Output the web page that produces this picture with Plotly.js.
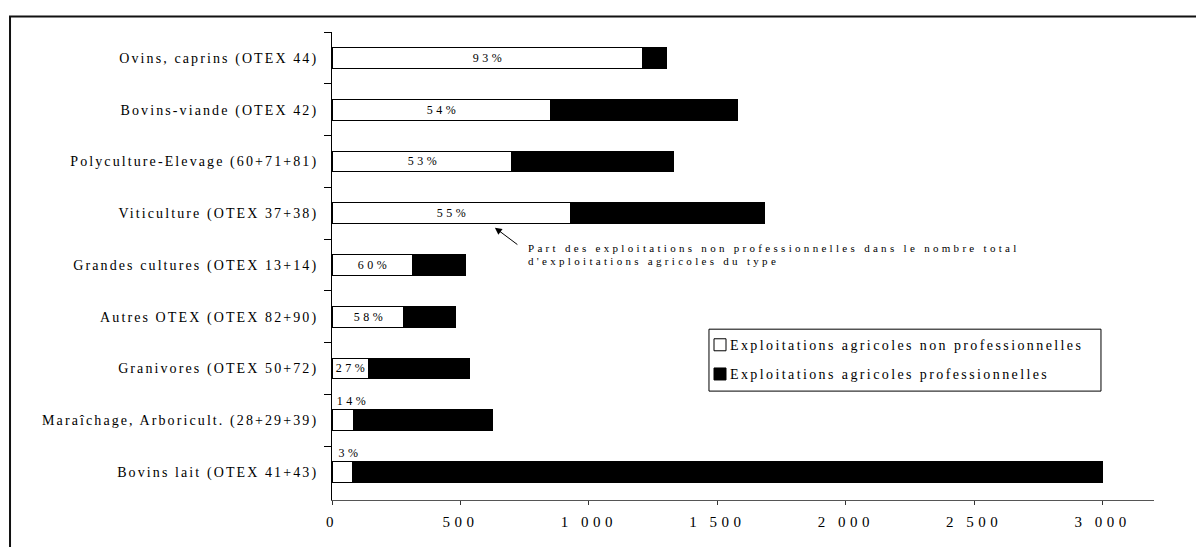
<!DOCTYPE html>
<html>
<head>
<meta charset="utf-8">
<script src="https://cdn.plot.ly/plotly-3.0.1.min.js"></script>
<style>
  html, body { margin: 0; padding: 0; background: #fff; }
  #chart { width: 1196px; height: 547px; }
  /* wide letter spacing of the original typesetting */
  #chart .ytick text { letter-spacing: 2.1px; }
  #chart .xtick text { letter-spacing: 4.5px; }
  #chart .legendtext { letter-spacing: 2.4px; transform: translateX(-10px); }
  #chart .annotation-text { letter-spacing: 3.3px; }
  #chart .annotation.share .annotation-text { letter-spacing: 3.5px; }
  #chart .legend .scrollbox { clip-path: none !important; }
</style>
</head>
<body>
<div id="chart"></div>
<script>
// Types of farms (OTEX), listed top to bottom
const categories = [
  'Ovins, caprins (OTEX 44)',
  'Bovins-viande (OTEX 42)',
  'Polyculture-Elevage (60+71+81)',
  'Viticulture (OTEX 37+38)',
  'Grandes cultures (OTEX 13+14)',
  'Autres OTEX (OTEX 82+90)',
  'Granivores (OTEX 50+72)',
  'Maraîchage, Arboricult. (28+29+39)',
  'Bovins lait (OTEX 41+43)'
];
// Number of farms
const nonPro = [1210, 851, 700, 927, 312, 278, 142, 85, 80];
const pro    = [93, 729, 628, 756, 208, 202, 392, 538, 2920];

const seriesNames = [
  'Exploitations agricoles non professionnelles',
  'Exploitations agricoles professionnelles'
];
const noteLines = [
  'Part des exploitations non professionnelles dans le nombre total',
  "d'exploitations agricoles du type"
];

const FONT = 'Liberation Serif, Times New Roman, serif';

const traces = [
  {
    type: 'bar', orientation: 'h',
    y: categories, x: nonPro,
    name: seriesNames[0], legendgroup: 'a',
    marker: { color: '#ffffff', line: { color: '#000000', width: 1 } },
    hoverinfo: 'skip'
  },
  {
    type: 'bar', orientation: 'h',
    y: categories, x: pro,
    name: seriesNames[1], legendgroup: 'b',
    marker: { color: '#000000', line: { color: '#000000', width: 1 } },
    hoverinfo: 'skip'
  }
];

// share of non-professional farms, written in the white part (or just above the bar when too narrow)
const shareFont = { family: FONT, size: 12, color: '#000' };
const shareLabels = categories.map((c, i) => {
  const pct = Math.round(nonPro[i] / (nonPro[i] + pro[i]) * 100) + '%';
  const inside = nonPro[i] >= 100;
  return inside
    ? { x: nonPro[i] / 2, y: c, text: pct, showarrow: false, xanchor: 'center', yanchor: 'middle',
        xshift: 2, font: shareFont }
    : { x: 0, y: c, text: pct, showarrow: false, xanchor: 'left', yanchor: 'middle',
        xshift: 8, yshift: 19, font: shareFont };
});

const noteFont = { family: FONT, size: 11, color: '#000' };
const annotations = shareLabels.concat([
  { // arrow pointing at the Viticulture share
    x: 634, y: 3.28, xref: 'x', yref: 'y', text: '',
    showarrow: true, arrowhead: 2, arrowsize: 1.4, arrowwidth: 1, arrowcolor: '#000',
    ax: 24, ay: 18, axref: 'pixel', ayref: 'pixel'
  },
  {
    x: 757, y: 3.681, xref: 'x', yref: 'y', text: noteLines[0],
    showarrow: false, xanchor: 'left', yanchor: 'middle', align: 'left', font: noteFont
  },
  {
    x: 757, y: 3.921, xref: 'x', yref: 'y', text: noteLines[1],
    showarrow: false, xanchor: 'left', yanchor: 'middle', align: 'left', font: noteFont
  }
]);

const layout = {
  width: 1196, height: 547,
  margin: { l: 332, r: 42, t: 32, b: 47, pad: 0 },
  paper_bgcolor: '#ffffff', plot_bgcolor: '#ffffff',
  barmode: 'stack', bargap: 0.6,
  separators: ', ',
  font: { family: FONT, size: 13, color: '#000' },
  xaxis: {
    range: [0, 3200], dtick: 500, tick0: 0, tickformat: ',d',
    showgrid: false, zeroline: false,
    showline: true, linecolor: '#555', linewidth: 1,
    ticks: 'outside', ticklen: 4, tickcolor: '#333',
    ticklabelstandoff: 4,
    tickfont: { family: FONT, size: 15, color: '#000' }
  },
  yaxis: {
    type: 'category', autorange: 'reversed',
    showgrid: false, zeroline: false,
    showline: true, linecolor: '#000', linewidth: 1,
    ticks: 'outside', tickson: 'boundaries', ticklen: 7, tickcolor: '#000',
    ticklabelstandoff: 10,
    tickfont: { family: FONT, size: 14, color: '#000' }
  },
  showlegend: true,
  legend: {
    x: 0.4477, xanchor: 'left', y: 0.365, yanchor: 'top',
    bgcolor: 'rgba(0,0,0,0)', borderwidth: 0,
    traceorder: 'grouped', tracegroupgap: 8,
    font: { family: FONT, size: 14, color: '#000' }
  },
  annotations: annotations,
  shapes: [
    { // outer frame
      type: 'rect', xref: 'paper', yref: 'paper',
      x0: -0.3917, x1: 1.1, y0: -0.2, y1: 1.0331,
      line: { color: '#111', width: 2 }, fillcolor: 'rgba(0,0,0,0)', layer: 'below'
    },
    { // legend box
      type: 'rect', xref: 'paper', yref: 'paper',
      x0: 0.4586, x1: 0.9355, y0: 0.2327, y1: 0.365,
      line: { color: '#000', width: 1 }, fillcolor: 'rgba(0,0,0,0)', layer: 'above'
    }
  ]
};

Plotly.newPlot('chart', traces, layout, { staticPlot: true, displayModeBar: false }).then(gd => {
  // tag the share labels so they get their own letter spacing
  const nodes = gd.querySelectorAll('.annotation');
  nodes.forEach((n, i) => { if (i < categories.length) n.classList.add('share'); });
});
</script>
</body>
</html>
